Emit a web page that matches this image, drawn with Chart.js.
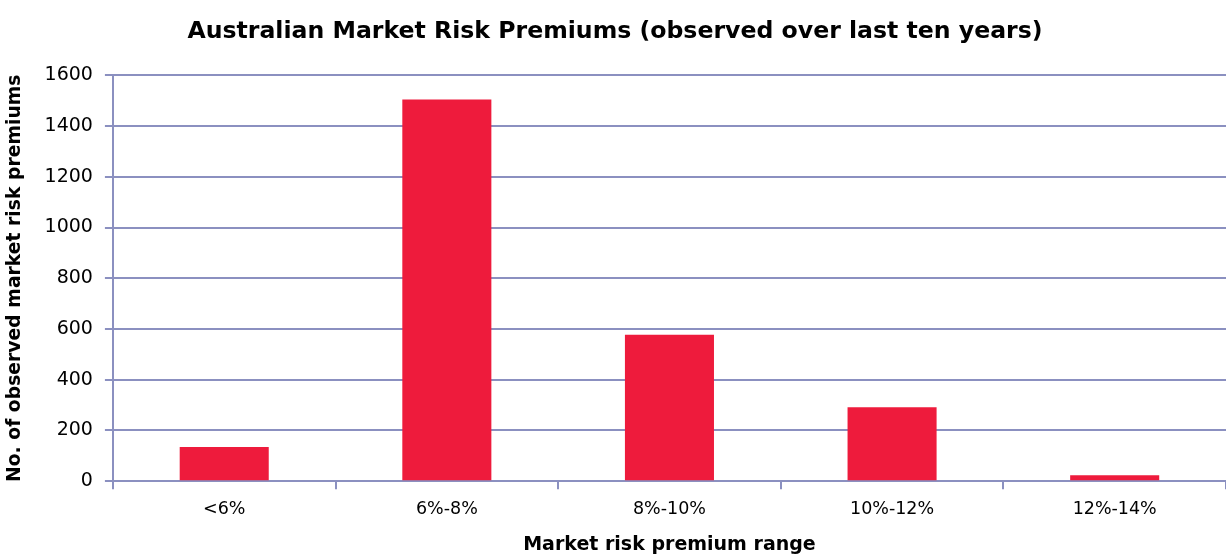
<!DOCTYPE html>
<html>
<head>
<meta charset="utf-8">
<script src="https://cdn.jsdelivr.net/npm/chart.js@4"></script>
<style>
	html, body { margin: 0; padding: 0; background: #fff; }
	.chart-wrap { width: 1226px; height: 556px; position: relative; }
</style>
</head>
<body>
<div class="chart-wrap"><canvas id="mrpChart"></canvas></div>
<script>
// market risk premium buckets and how many observations fell in each
const ranges = ["<6%", "6%-8%", "8%-10%", "10%-12%", "12%-14%"];
const counts = [135, 1505, 577, 292, 23];

const yMax = 1600;
const yStep = 200;

const axisColor = "#8b90c0";
const barColor = "#ee1b3c";
const fontFamily = "'DejaVu Sans', sans-serif";

const ctx = document.getElementById("mrpChart").getContext("2d");
const mrpChart = new Chart(ctx, {
	type: "bar",
	data: {
		labels: ranges,
		datasets: [
			{
				label: "Observed market risk premiums",
				data: counts,
				backgroundColor: barColor,
				borderWidth: 0,
				categoryPercentage: 1,
				barPercentage: 0.4,
			},
		],
	},
	options: {
		responsive: true,
		maintainAspectRatio: false,
		animation: false,
		layout: { padding: { top: 18, right: 0, left: 4, bottom: 0 } },
		scales: {
			x: {
				grid: {
					offset: true,
					drawOnChartArea: false,
					color: axisColor,
					lineWidth: 2,
					tickLength: 8,
				},
				border: { color: axisColor, width: 2 },
				ticks: {
					color: "#000",
					font: { family: fontFamily, size: 17.5 },
					padding: 10,
					maxRotation: 0,
				},
				title: {
					display: true,
					text: "Market risk premium range",
					color: "#000",
					font: { family: fontFamily, size: 19, weight: "bold" },
					padding: { top: 3, bottom: 0 },
				},
			},
			y: {
				min: 0,
				max: yMax,
				grid: {
					color: axisColor,
					lineWidth: 2,
					tickLength: 8,
				},
				border: { color: axisColor, width: 2 },
				ticks: {
					stepSize: yStep,
					color: "#000",
					font: { family: fontFamily, size: 19 },
					padding: 12,
					callback: (value) => String(value), // no thousands separator
				},
				title: {
					display: true,
					text: "No. of observed market risk premiums",
					color: "#000",
					font: { family: fontFamily, size: 18.8, weight: "bold" },
					padding: { top: 0, bottom: 6 },
				},
			},
		},
		plugins: {
			legend: { display: false },
			tooltip: { enabled: false },
			title: {
				display: true,
				text: "Australian Market Risk Premiums (observed over last ten years)",
				color: "#000",
				font: { family: fontFamily, size: 23.6, weight: "bold" },
				padding: { top: 0, bottom: 29 },
			},
		},
	},
});
</script>
</body>
</html>
